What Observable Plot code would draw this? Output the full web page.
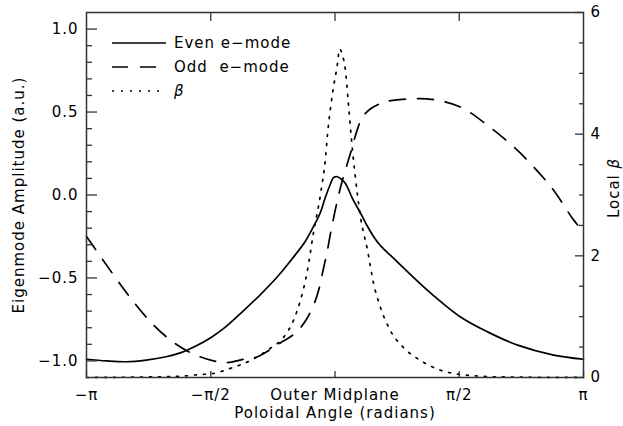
<!DOCTYPE html>
<html><head><meta charset="utf-8">
<script src="https://cdn.jsdelivr.net/npm/d3@7"></script>
<script src="https://cdn.jsdelivr.net/npm/@observablehq/plot@0.6"></script>
<style>body{margin:0;background:#fff} svg{white-space:pre}</style>
</head><body><div id="chart"></div>
<script>
// Angles are given in units of pi (theta / pi)
const evenTheta = [-1.0, -0.92, -0.84, -0.76, -0.68, -0.62, -0.56, -0.5, -0.44, -0.37, -0.3, -0.23, -0.17, -0.12, -0.09, -0.06, -0.04, -0.02, -0.006, 0.01, 0.025, 0.042, 0.07, 0.103, 0.131, 0.155, 0.18, 0.203, 0.252, 0.304, 0.392, 0.505, 0.614, 0.735, 0.88, 1.0];
const evenAmp   = [-0.99, -1.0, -1.005, -0.995, -0.975, -0.95, -0.91, -0.86, -0.795, -0.7, -0.6, -0.49, -0.38, -0.28, -0.2, -0.11, -0.02, 0.06, 0.105, 0.11, 0.095, 0.07, -0.02, -0.11, -0.19, -0.25, -0.3, -0.335, -0.405, -0.48, -0.6, -0.735, -0.825, -0.905, -0.965, -0.99];

const oddTheta = [-1.0, -0.892, -0.823, -0.742, -0.662, -0.582, -0.489, -0.433, -0.368, -0.312, -0.219, -0.17, -0.139, -0.111, -0.085, -0.065, -0.046, -0.03, -0.018, 0.01, 0.03, 0.062, 0.091, 0.111, 0.143, 0.18, 0.211, 0.316, 0.396, 0.505, 0.614, 0.719, 0.799, 0.879, 0.96, 1.0];
const oddAmp   = [-0.25, -0.48, -0.62, -0.765, -0.875, -0.95, -1.0, -1.01, -0.99, -0.975, -0.89, -0.845, -0.8, -0.74, -0.66, -0.57, -0.44, -0.33, -0.23, -0.03, 0.09, 0.25, 0.4, 0.47, 0.52, 0.55, 0.565, 0.58, 0.575, 0.53, 0.42, 0.29, 0.17, 0.03, -0.15, -0.22];

const betaTheta = [-1.0, -0.742, -0.622, -0.541, -0.5, -0.421, -0.34, -0.26, -0.207, -0.167, -0.139, -0.111, -0.087, -0.058, -0.038, -0.03, -0.01, 0.01, 0.018, 0.03, 0.042, 0.054, 0.07, 0.082, 0.103, 0.131, 0.155, 0.183, 0.223, 0.276, 0.344, 0.425, 0.505, 0.666, 1.0];
const betaVal   = [0.0, 0.01, 0.02, 0.05, 0.06, 0.15, 0.28, 0.48, 0.66, 0.94, 1.27, 1.76, 2.37, 3.02, 3.62, 4.0, 4.67, 5.16, 5.4, 5.3, 5.05, 4.5, 3.75, 3.29, 2.63, 2.09, 1.55, 1.15, 0.77, 0.49, 0.28, 0.12, 0.05, 0.01, 0.0];

const xTicks = [-1, -0.5, 0, 0.5, 1];
const xTickLabels = ["−π", "−π/2", "Outer Midplane", "π/2", "π"];
const yMajor = [-1, -0.5, 0, 0.5, 1];
const yMinor = [-0.9, -0.8, -0.7, -0.6, -0.4, -0.3, -0.2, -0.1, 0.1, 0.2, 0.3, 0.4, 0.6, 0.7, 0.8, 0.9];
const betaMajor = [0, 2, 4, 6];
const betaMinor = [0.5, 1, 1.5, 2.5, 3, 3.5, 4.5, 5, 5.5];
const legendLabels = ["Even e−mode", "Odd\u00a0\u00a0e−mode", "β"];
const xLabel = "Poloidal Angle (radians)";
const yLabel = "Eigenmode Amplitude (a.u.)";
const y2Label = "Local β";

const yDomain = [-1.1, 1.1];
const betaDomain = [0, 6];
const toLeft = b => yDomain[0] + (b - betaDomain[0]) * (yDomain[1] - yDomain[0]) / (betaDomain[1] - betaDomain[0]);
const fromLeft = v => betaDomain[0] + (v - yDomain[0]) * (betaDomain[1] - betaDomain[0]) / (yDomain[1] - yDomain[0]);

const even = evenTheta.map((t, i) => ({t, v: evenAmp[i]}));
const odd = oddTheta.map((t, i) => ({t, v: oddAmp[i]}));
const beta = betaTheta.map((t, i) => ({t, b: betaVal[i]}));

const ink = "#000";
const axisInk = "#333";
const fmt = d => d.toFixed(1).replace("-", "−");

const chart = Plot.plot({
  width: 623, height: 426,
  marginLeft: 86, marginRight: 40, marginTop: 12, marginBottom: 49,
  style: {fontFamily: "'DejaVu Sans', sans-serif", fontSize: "15px", color: "#000", background: "#fff", letterSpacing: "1px"},
  x: {domain: [-1, 1]},
  y: {domain: yDomain},
  marks: [
    Plot.line(even, {x: "t", y: "v", stroke: ink, strokeWidth: 1.7, curve: "catmull-rom"}),
    Plot.line(odd, {x: "t", y: "v", stroke: ink, strokeWidth: 1.7, strokeDasharray: "16,12", curve: "catmull-rom"}),
    Plot.line(beta, {x: "t", y: d => toLeft(d.b), stroke: ink, strokeWidth: 1.7, strokeDasharray: "2,7", curve: "monotone-x"}),
    Plot.frame({stroke: axisInk, strokeWidth: 1.5}),
    Plot.axisY(yMajor, {anchor: "left", tickSize: -11, tickPadding: 19, stroke: axisInk, strokeWidth: 1.3, tickFormat: fmt, label: null}),
    Plot.axisY(yMinor, {anchor: "left", tickSize: -6, stroke: axisInk, strokeWidth: 1.3, tickFormat: () => "", label: null}),
    Plot.axisY(betaMajor.map(toLeft), {anchor: "right", tickSize: -9, tickPadding: 16, stroke: axisInk, strokeWidth: 1.3, tickFormat: v => String(Math.round(fromLeft(v))), label: null}),
    Plot.axisY(betaMinor.map(toLeft), {anchor: "right", tickSize: -5, stroke: axisInk, strokeWidth: 1.3, tickFormat: () => "", label: null}),
    Plot.axisX(xTicks, {anchor: "bottom", tickSize: -6, tickPadding: 18, stroke: axisInk, strokeWidth: 1.3, tickFormat: d => xTickLabels[xTicks.indexOf(d)], label: null}),
    Plot.axisX(xTicks.slice(1, -1), {anchor: "top", tickSize: -8, stroke: axisInk, strokeWidth: 1.3, tickFormat: () => "", label: null}),
    Plot.text([xLabel], {frameAnchor: "bottom", lineAnchor: "bottom", textAnchor: "middle", dy: 40, text: d => d, fill: ink}),
    Plot.text([yLabel], {frameAnchor: "left", lineAnchor: "bottom", textAnchor: "middle", rotate: -90, dx: -63, text: d => d, fill: ink}),
    Plot.text([y2Label], {frameAnchor: "right", lineAnchor: "bottom", textAnchor: "middle", rotate: -90, dx: 35, dy: -7, text: d => d, fill: ink})
  ]
});

document.getElementById("chart").appendChild(chart);

// italic beta in right-axis label
d3.select(chart).selectAll("text").filter(function() { return this.textContent === y2Label; })
  .each(function() {
    const t = d3.select(this);
    t.text("Local ");
    t.append("tspan").attr("font-style", "italic").text("β");
  });

// legend inside the plot area
const leg = d3.select(chart).append("g")
  .attr("font-family", "'DejaVu Sans', sans-serif").attr("font-size", 15)
  .attr("letter-spacing", "1px").attr("text-anchor", "start");
const legDash = [null, "16,12", "2,7"];
const legX0 = 112, legX1 = 166, legTx = 174, legY0 = 43, legDy = 24;
legendLabels.forEach((lab, i) => {
  const y = legY0 + i * legDy;
  leg.append("line").attr("x1", legX0).attr("x2", legX1).attr("y1", y).attr("y2", y)
    .attr("stroke", ink).attr("stroke-width", 1.7).attr("stroke-dasharray", legDash[i]);
  leg.append("text").attr("x", legTx).attr("y", y).attr("dy", "0.35em")
    .attr("text-anchor", "start")
    .attr("font-style", i === 2 ? "italic" : null).attr("fill", ink).text(lab);
});
</script>
</body></html>
